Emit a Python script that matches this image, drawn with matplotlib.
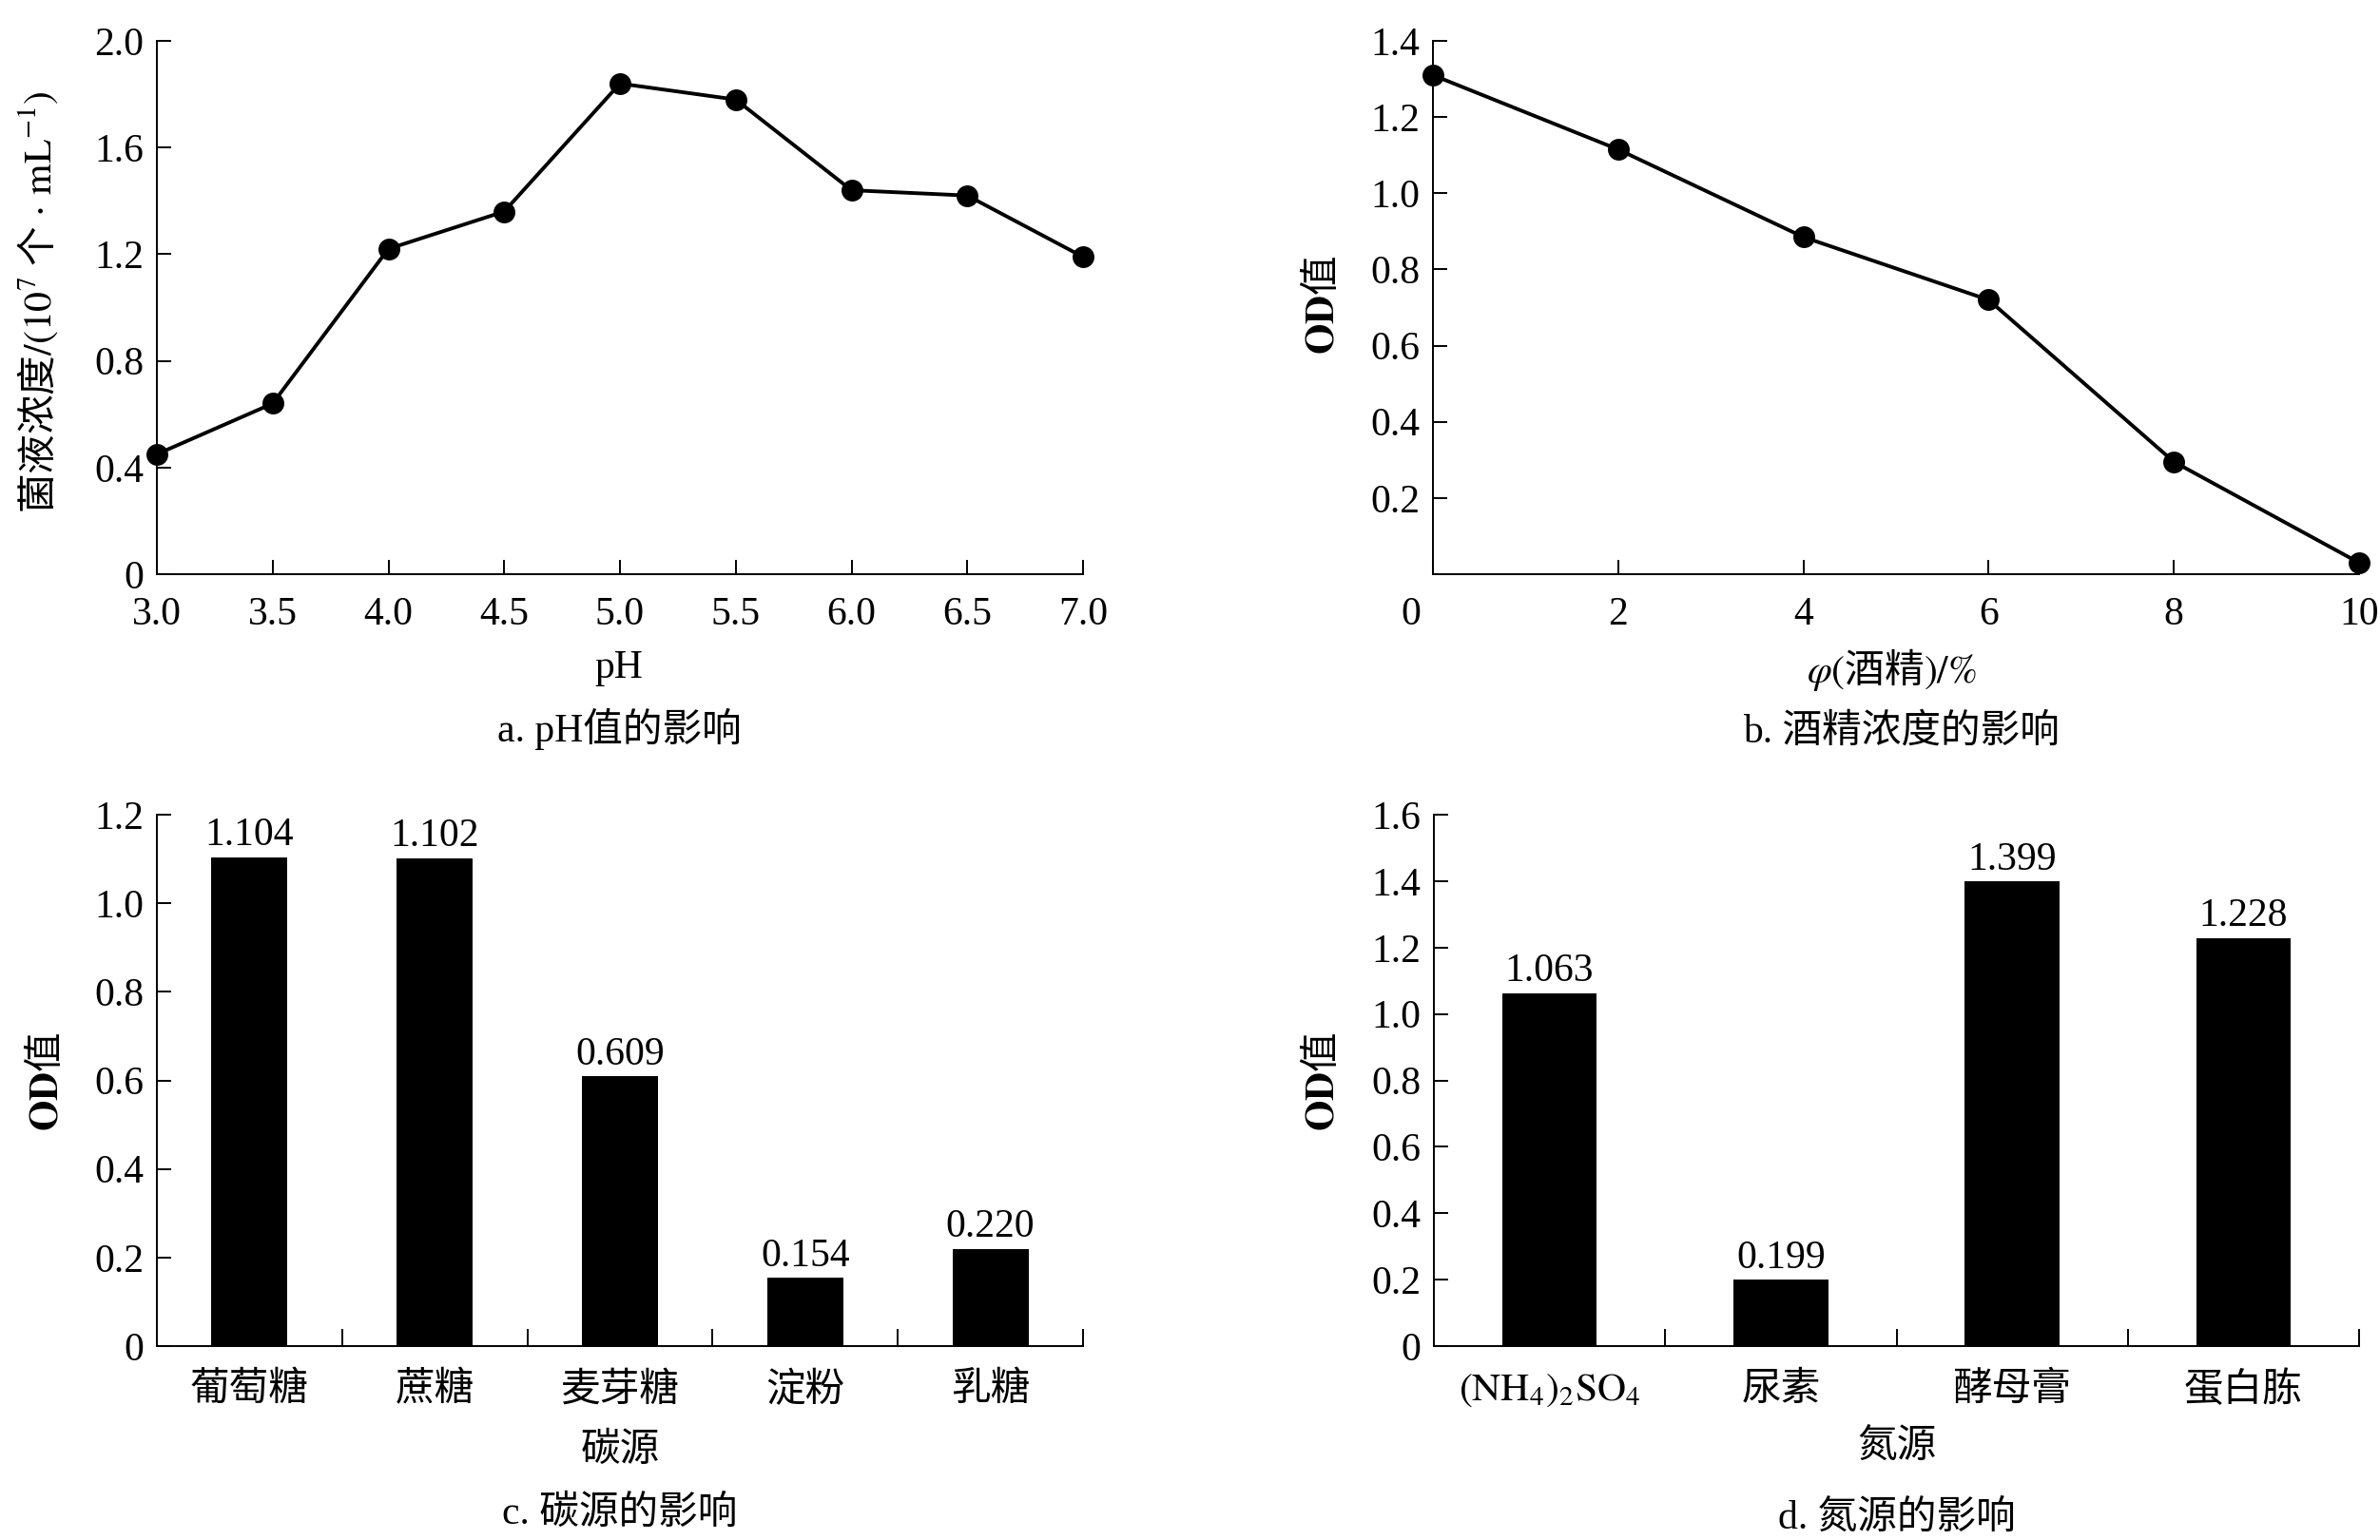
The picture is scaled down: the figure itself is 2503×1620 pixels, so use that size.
import matplotlib
matplotlib.use("Agg")
import matplotlib.pyplot as plt
import matplotlib.transforms as mtransforms

# ---------------- data ----------------
ph_values = [3.0, 3.5, 4.0, 4.5, 5.0, 5.5, 6.0, 6.5, 7.0]
conc_values = [0.45, 0.64, 1.22, 1.36, 1.84, 1.78, 1.44, 1.42, 1.19]
ph_tick_labels = ['3.0', '3.5', '4.0', '4.5', '5.0', '5.5', '6.0', '6.5', '7.0']
conc_ticks = [0, 0.4, 0.8, 1.2, 1.6, 2.0]
conc_tick_labels = ['0', '0.4', '0.8', '1.2', '1.6', '2.0']

alcohol_values = [0, 2, 4, 6, 8, 10]
od_alcohol = [1.31, 1.115, 0.885, 0.72, 0.295, 0.03]
alcohol_tick_labels = ['0', '2', '4', '6', '8', '10']
od_b_ticks = [0.2, 0.4, 0.6, 0.8, 1.0, 1.2, 1.4]
od_b_tick_labels = ['0.2', '0.4', '0.6', '0.8', '1.0', '1.2', '1.4']

carbon_sources = ['葡萄糖', '蔗糖', '麦芽糖', '淀粉', '乳糖']
od_carbon = [1.104, 1.102, 0.609, 0.154, 0.220]
od_c_ticks = [0, 0.2, 0.4, 0.6, 0.8, 1.0, 1.2]
od_c_tick_labels = ['0', '0.2', '0.4', '0.6', '0.8', '1.0', '1.2']

nitrogen_sources = [r'$\mathrm{(NH_4)_2SO_4}$', '尿素', '酵母膏', '蛋白胨']
od_nitrogen = [1.063, 0.199, 1.399, 1.228]
od_d_ticks = [0, 0.2, 0.4, 0.6, 0.8, 1.0, 1.2, 1.4, 1.6]
od_d_tick_labels = ['0', '0.2', '0.4', '0.6', '0.8', '1.0', '1.2', '1.4', '1.6']

# ---------------- style ----------------
plt.rcParams['font.family'] = ['Liberation Serif', 'Noto Sans CJK SC', 'DejaVu Sans']
plt.rcParams['mathtext.fontset'] = 'stix'
FS = 30
CJK = ['Noto Sans CJK SC']

W, H = 2503, 1620
fig = plt.figure(figsize=(W / 100, H / 100), dpi=100)


def rect(x0, x1, y0, y1):
    return [x0 / W, 1 - y1 / H, (x1 - x0) / W, (y1 - y0) / H]


def style(ax):
    for s in ('top', 'right'):
        ax.spines[s].set_visible(False)
    for s in ('left', 'bottom'):
        ax.spines[s].set_linewidth(1.4)
    ax.tick_params(direction='in', length=11, width=1.4, labelsize=FS, pad=10)
    ax.tick_params(axis='x', pad=17)


def ftext(x, y, s, **kw):
    fig.text(x / W, 1 - y / H, s, ha='center', va='center', fontsize=FS, **kw)


axA = fig.add_axes(rect(165, 1139, 43, 604))
axB = fig.add_axes(rect(1507, 2481, 43, 604))
axC = fig.add_axes(rect(165, 1139, 857, 1416))
axD = fig.add_axes(rect(1508, 2481, 857, 1416))

# ---- a ----
style(axA)
axA.plot(ph_values, conc_values, color='black', lw=2.8, marker='o', ms=15.5, clip_on=False, zorder=3)
axA.set_xlim(3.0, 7.0)
axA.set_ylim(0, 2.0)
axA.set_xticks(ph_values, ph_tick_labels)
axA.set_yticks(conc_ticks, conc_tick_labels)

# ---- b ----
style(axB)
axB.plot(alcohol_values, od_alcohol, color='black', lw=2.8, marker='o', ms=15.5, clip_on=False, zorder=3)
axB.set_xlim(0, 10)
axB.set_ylim(0, 1.4)
axB.set_xticks(alcohol_values, alcohol_tick_labels)
axB.set_yticks(od_b_ticks, od_b_tick_labels)
lbl0 = axB.get_xticklabels()[0]
lbl0.set_transform(lbl0.get_transform() + mtransforms.ScaledTranslation(-0.23, 0, fig.dpi_scale_trans))


# ---- bars ----
def bar_chart(ax, cats, vals, yt, ytl, ymax):
    style(ax)
    pos = list(range(len(cats)))
    ax.bar(pos, vals, width=0.41, color='black')
    ax.set_xlim(-0.5, len(cats) - 0.5)
    ax.set_ylim(0, ymax)
    ax.set_xticks(pos, cats)
    ax.tick_params(axis='x', which='major', length=0, pad=20)
    ax.set_xticks([p + 0.5 for p in pos], minor=True)
    ax.tick_params(axis='x', which='minor', direction='in', length=13, width=1.4)
    ax.set_yticks(yt, ytl)
    for p, v in zip(pos, vals):
        ax.annotate(f'{v:.3f}', (p, v), xytext=(0, 9), textcoords='offset points',
                    ha='center', va='baseline', fontsize=FS)


bar_chart(axC, carbon_sources, od_carbon, od_c_ticks, od_c_tick_labels, 1.2)
bar_chart(axD, nitrogen_sources, od_nitrogen, od_d_ticks, od_d_tick_labels, 1.6)

# ---- labels ----
ftext(40, 318, r'菌液浓度$\mathrm{/(10^{7}}$ 个$\mathrm{\,\cdot\,mL^{-1})}$', rotation=90, family=CJK)
ftext(1390, 321, r'$\mathbf{OD}$值', rotation=90, family=CJK)
ftext(48, 1138, r'$\mathbf{OD}$值', rotation=90, family=CJK)
ftext(1390, 1138, r'$\mathbf{OD}$值', rotation=90, family=CJK)

ftext(651, 703, 'pH')
ftext(651, 767, 'a. pH值的影响')
ftext(1990, 705, r'$\varphi\mathrm{(}$酒精$\mathrm{)/\%}$', family=CJK)
ftext(1999, 770, 'b. 酒精浓度的影响')
ftext(652, 1527, '碳源')
ftext(652, 1593, 'c. 碳源的影响')
ftext(1995, 1524, '氮源')
ftext(1995, 1598, 'd. 氮源的影响')

fig.savefig('out.png', dpi=100, facecolor='white')
